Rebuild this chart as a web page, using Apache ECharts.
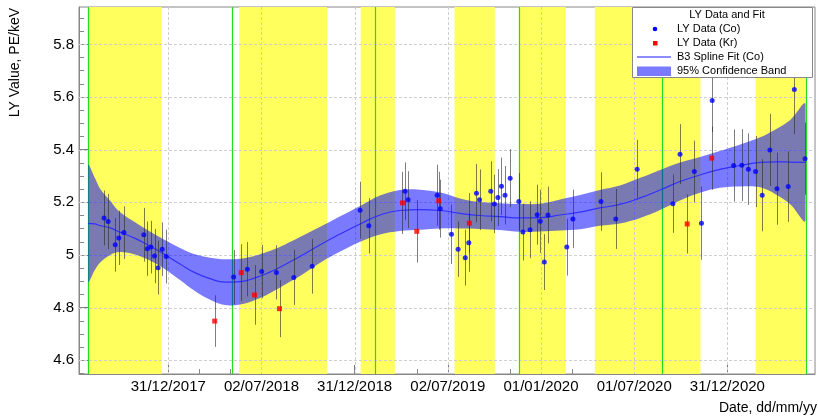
<!DOCTYPE html>
<html><head><meta charset="utf-8">
<script src="https://cdn.jsdelivr.net/npm/echarts@6/dist/echarts.min.js"></script>
<style>html,body{margin:0;padding:0;background:#fff}#c{width:818px;height:419px}</style>
</head><body><div id="c"></div>
<script>
// ---------- data ----------
const coDates = ['2017-08-27','2017-09-04','2017-09-18','2017-09-25','2017-10-05','2017-11-13','2017-11-20','2017-11-27','2017-12-04','2017-12-11','2017-12-19','2017-12-27',
  '2018-05-08','2018-06-04','2018-07-02','2018-07-31','2018-09-03','2018-10-09',
  '2019-01-11','2019-01-28','2019-04-09','2019-04-15','2019-06-11','2019-06-17','2019-07-09','2019-07-22','2019-08-05','2019-08-12','2019-08-27','2019-09-02','2019-09-24','2019-10-01','2019-10-08','2019-10-15','2019-10-22','2019-11-01','2019-11-18','2019-11-26','2019-12-10','2019-12-24','2019-12-30',
  '2020-01-07','2020-01-14','2020-02-20','2020-03-03','2020-04-27','2020-05-26','2020-07-07','2020-09-15','2020-09-29','2020-10-27','2020-11-10','2020-12-01',
  '2021-01-12','2021-01-28','2021-02-10','2021-02-24','2021-03-09','2021-03-24','2021-04-07','2021-04-29','2021-05-11','2021-06-01'];
const coValues = [5.141,5.127,5.039,5.065,5.085,5.077,5.024,5.030,4.996,4.952,5.022,4.994,
  4.916,4.946,4.937,4.934,4.915,4.957,
  5.170,5.111,5.242,5.210,5.227,5.176,5.079,5.022,4.990,5.047,5.235,5.210,5.242,5.194,5.218,5.261,5.227,5.292,5.203,5.087,5.096,5.153,5.128,
  4.973,5.152,5.030,5.137,5.203,5.137,5.326,5.195,5.383,5.317,5.121,5.587,
  5.340,5.341,5.326,5.317,5.227,5.399,5.252,5.260,5.629,5.366];
const coErrors = [0.104,0.105,0.102,0.103,0.100,0.102,0.103,0.100,0.103,0.102,0.102,0.102,
  0.103,0.103,0.101,0.103,0.105,0.104,
  0.108,0.105,0.110,0.108,0.116,0.110,0.113,0.105,0.106,0.111,0.111,0.115,0.114,0.111,0.108,0.109,0.111,0.110,0.108,0.108,0.108,0.114,0.120,
  0.106,0.108,0.108,0.111,0.111,0.114,0.111,0.111,0.114,0.117,0.139,0.120,
  0.137,0.137,0.136,0.135,0.137,0.137,0.137,0.134,0.170,0.137];
const krDates = ['2018-04-01','2018-05-23','2018-06-18','2018-08-06','2019-04-04','2019-05-02','2019-06-14','2019-08-13','2020-10-13','2020-11-30'];
const krValues = [4.749,4.933,4.848,4.796,5.198,5.090,5.206,5.121,5.118,5.368];
const krErrors = [0.098,0.108,0.113,0.108,0.118,0.119,0.110,0.114,0.112,0.120];

const fitDates = ['2017-07-27','2017-08-09','2017-08-19','2017-09-08','2017-09-27','2017-10-27','2017-11-25','2017-12-24',
  '2018-01-23','2018-02-21','2018-03-23','2018-04-21','2018-05-21','2018-06-19','2018-07-18','2018-08-17','2018-09-15','2018-10-24','2018-12-03',
  '2019-01-11','2019-02-19','2019-03-30','2019-05-08','2019-06-17','2019-07-26','2019-09-03','2019-10-12','2019-11-20','2019-12-30',
  '2020-02-07','2020-03-17','2020-04-25','2020-06-03','2020-07-13','2020-08-21','2020-09-29','2020-11-07','2020-12-16',
  '2021-01-25','2021-03-05','2021-04-03','2021-05-03','2021-06-02'];
const fitValues = [5.120,5.118,5.112,5.103,5.087,5.063,5.034,5.002,
  4.966,4.933,4.910,4.897,4.899,4.913,4.935,4.964,4.994,5.038,5.080,
  5.118,5.152,5.169,5.172,5.169,5.158,5.150,5.146,5.141,5.142,
  5.152,5.163,5.179,5.192,5.217,5.247,5.279,5.304,5.325,
  5.340,5.352,5.354,5.353,5.352];
const fitHalfWidth = [0.221,0.175,0.141,0.103,0.076,0.061,0.055,0.055,
  0.061,0.070,0.080,0.087,0.087,0.084,0.080,0.076,0.074,0.068,0.067,
  0.068,0.074,0.078,0.076,0.068,0.057,0.051,0.051,0.053,0.053,
  0.059,0.065,0.068,0.072,0.076,0.076,0.072,0.068,0.070,
  0.080,0.095,0.122,0.160,0.221];

const yellowBands = [['2017-07-27','2017-12-18'],['2018-05-19','2018-11-07'],['2019-01-12','2019-03-20'],['2019-07-15','2019-10-02'],['2019-11-18','2020-02-18'],['2020-04-15','2020-11-08'],['2021-02-24','2021-06-02']];
const greenLines = ['2017-07-27','2018-05-04','2019-02-10','2019-11-18','2020-08-25','2021-06-02'];

const xTickLabels = ['31/12/2017','02/07/2018','31/12/2018','02/07/2019','01/01/2020','01/07/2020','31/12/2020'];
const yTickValues = [4.6,4.8,5.0,5.2,5.4,5.6,5.8];
const yTickLabels = ['4.6','4.8','5','5.2','5.4','5.6','5.8'];

// ---------- helpers ----------
const DAY0 = Date.UTC(2017, 11, 31);
function toDay(s){ const p = s.split('-').map(Number); return (Date.UTC(p[0], p[1]-1, p[2]) - DAY0) / 86400000; }
const HALF_YEAR = 182.625;
const xMin = toDay('2017-07-09'), xMax = toDay('2021-06-20') + 0.5;
const yMin = 4.548, yMax = 5.942;
const majorDays = xTickLabels.map((_, i) => i * HALF_YEAR);
const minorDays = [];
for (let k = -3; k <= 21; k++) { const v = k * HALF_YEAR / 3; if (v > xMin && v < xMax) minorDays.push(v); }
const yMinor = [];
for (let k = 91; k <= 118; k++) { const v = k * 0.05; if (v > yMin && v < yMax) yMinor.push(+v.toFixed(2)); }

const FONT = '"Liberation Sans", Arial, Helvetica, sans-serif';
const coData = coDates.map((d, i) => [toDay(d), coValues[i], coErrors[i]]);
const krData = krDates.map((d, i) => [toDay(d), krValues[i], krErrors[i]]);
const fitX = fitDates.map(toDay);
const fitData = fitX.map((x, i) => [x, fitValues[i]]);

const chart = echarts.init(document.getElementById('c'), null, {renderer: 'canvas'});

function errRender(params, api) {
  const x = api.value(0), y = api.value(1), e = api.value(2);
  const a = api.coord([x, y + e]), b = api.coord([x, y - e]);
  const px = Math.round(a[0]) + 0.5;
  return {type: 'line', shape: {x1: px, y1: a[1], x2: px, y2: b[1]}, style: {stroke: 'rgba(40,40,40,0.6)', lineWidth: 1}};
}

function bandRender(params, api) {
  const up = [], lo = [];
  for (let i = 0; i < fitX.length; i++) {
    up.push(api.coord([fitX[i], fitValues[i] + fitHalfWidth[i]]));
    lo.push(api.coord([fitX[i], fitValues[i] - fitHalfWidth[i]]));
  }
  const pts = up.concat(lo.reverse());
  const x0 = up[0][0], x1 = up[up.length - 1][0];
  return {type: 'polygon', shape: {points: pts, smooth: 0.35, smoothConstraint: [[x0, -1e6], [x1, 1e6]]},
    style: {fill: 'rgba(0,0,255,0.52)', stroke: null}};
}

const option = {
  animation: false,
  backgroundColor: '#fff',
  grid: {left: 79, top: 7, right: 3, bottom: 45, show: true, borderColor: '#888', borderWidth: 1, backgroundColor: 'transparent'},
  xAxis: [
    {type: 'value', min: xMin, max: xMax, position: 'bottom',
      axisLine: {show: true, onZero: false, lineStyle: {color: '#888'}},
      axisTick: {show: true, inside: true, length: 9, customValues: majorDays, lineStyle: {color: '#777'}},
      axisLabel: {show: true, customValues: majorDays, margin: 5, fontSize: 15, fontFamily: FONT, color: '#000',
        formatter: v => xTickLabels[Math.round(v / HALF_YEAR)] || ''},
      splitLine: {show: false}},
    {type: 'value', min: xMin, max: xMax, position: 'bottom', gridIndex: 0,
      axisLine: {show: false, onZero: false},
      axisTick: {show: true, inside: true, length: 5, customValues: minorDays, lineStyle: {color: '#888'}},
      axisLabel: {show: false}, splitLine: {show: false}}
  ],
  yAxis: [
    {type: 'value', min: yMin, max: yMax, position: 'left',
      axisLine: {show: true, onZero: false, lineStyle: {color: '#888'}},
      axisTick: {show: true, inside: true, length: 10, customValues: yTickValues, lineStyle: {color: '#777'}},
      axisLabel: {show: true, customValues: yTickValues, margin: 5, fontSize: 15, fontFamily: FONT, color: '#000',
        formatter: v => { const i = yTickValues.findIndex(t => Math.abs(t - v) < 1e-6); return i >= 0 ? yTickLabels[i] : ''; }},
      splitLine: {show: false}},
    {type: 'value', min: yMin, max: yMax, position: 'left', gridIndex: 0,
      axisLine: {show: false, onZero: false},
      axisTick: {show: true, inside: true, length: 5, customValues: yMinor, lineStyle: {color: '#888'}},
      axisLabel: {show: false}, splitLine: {show: false}}
  ],
  series: [
    {type: 'custom', name: 'bands', z: 1, silent: true, clip: true,
      data: yellowBands.map(b => [toDay(b[0]), toDay(b[1])]), encode: {x: [0, 1]},
      renderItem: (params, api) => {
        const cs = params.coordSys;
        const a = api.coord([api.value(0), yMin]), b = api.coord([api.value(1), yMin]);
        return {type: 'rect', shape: {x: a[0], y: cs.y, width: b[0] - a[0], height: cs.height}, style: {fill: '#ffff5e'}};
      }},
    {type: 'custom', name: 'vgrid', z: 2, silent: true,
      data: majorDays.map(v => [v]), encode: {x: 0},
      renderItem: (params, api) => {
        const cs = params.coordSys; const p = api.coord([api.value(0), yMin]);
        const x = Math.round(p[0]) + 0.5;
        return {type: 'line', shape: {x1: x, y1: cs.y, x2: x, y2: cs.y + cs.height}, style: {stroke: '#cfcfcf', lineWidth: 1, lineDash: [3, 2]}};
      }},
    {type: 'custom', name: 'hgrid', z: 2, silent: true,
      data: yTickValues.map(v => [xMin, v]), encode: {x: 0, y: 1},
      renderItem: (params, api) => {
        const cs = params.coordSys; const p = api.coord([xMin, api.value(1)]);
        const y = Math.round(p[1]) + 0.5;
        return {type: 'line', shape: {x1: cs.x, y1: y, x2: cs.x + cs.width, y2: y}, style: {stroke: '#cfcfcf', lineWidth: 1, lineDash: [3, 2]}};
      }},
    {type: 'custom', name: 'green', z: 2, silent: true,
      data: greenLines.map(d => [toDay(d)]), encode: {x: 0},
      renderItem: (params, api) => {
        const cs = params.coordSys; const p = api.coord([api.value(0), yMin]);
        const x = Math.round(p[0]) + 0.5;
        return {type: 'line', shape: {x1: x, y1: cs.y, x2: x, y2: cs.y + cs.height}, style: {stroke: '#22dd22', lineWidth: 1.2}};
      }},
    {type: 'custom', name: '95% Confidence Band', z: 3, silent: true, clip: true,
      data: [[fitX[0], fitValues[0]]], encode: {x: 0, y: 1}, renderItem: bandRender},
    {type: 'line', name: 'B3 Spline Fit (Co)', z: 4, data: fitData, smooth: 0.5, symbol: 'none', silent: true,
      lineStyle: {color: '#3030ff', width: 1.2}},
    {type: 'custom', name: 'coErr', z: 5, silent: true, data: coData, encode: {x: 0, y: 1}, renderItem: errRender},
    {type: 'custom', name: 'krErr', z: 5, silent: true, data: krData, encode: {x: 0, y: 1}, renderItem: errRender},
    {type: 'scatter', name: 'LY Data (Co)', z: 6, data: coData, symbol: 'circle', symbolSize: 5,
      itemStyle: {color: '#0000ff'}, encode: {x: 0, y: 1}},
    {type: 'scatter', name: 'LY Data (Kr)', z: 6, data: krData, symbol: 'rect', symbolSize: 5,
      itemStyle: {color: '#ff0000'}, encode: {x: 0, y: 1}}
  ],
  graphic: [
    {type: 'text', x: 15, y: 8, rotation: Math.PI / 2, z: 100,
      style: {text: 'LY Value, PE/keV', align: 'right', verticalAlign: 'middle', fontSize: 14, fontFamily: FONT, fill: '#000'}},
    {type: 'text', x: 817, y: 408, z: 100,
      style: {text: 'Date, dd/mm/yy', align: 'right', verticalAlign: 'middle', fontSize: 14, fontFamily: FONT, fill: '#000'}},
    {type: 'rect', z: 100, shape: {x: 632.5, y: 7.5, width: 180, height: 70}, style: {fill: '#fff', stroke: '#888', lineWidth: 1}},
    {type: 'text', z: 101, x: 727, y: 15, style: {text: 'LY Data and Fit', align: 'center', verticalAlign: 'middle', fontSize: 11, fontFamily: FONT, fill: '#000'}},
    {type: 'circle', z: 101, shape: {cx: 655, cy: 29, r: 2.3}, style: {fill: '#0000ff'}},
    {type: 'text', z: 101, x: 677, y: 29, style: {text: 'LY Data (Co)', align: 'left', verticalAlign: 'middle', fontSize: 11, fontFamily: FONT, fill: '#000'}},
    {type: 'rect', z: 101, shape: {x: 653, y: 41, width: 4.5, height: 4.5}, style: {fill: '#ff0000'}},
    {type: 'text', z: 101, x: 677, y: 43, style: {text: 'LY Data (Kr)', align: 'left', verticalAlign: 'middle', fontSize: 11, fontFamily: FONT, fill: '#000'}},
    {type: 'line', z: 101, shape: {x1: 637, y1: 57, x2: 671, y2: 57}, style: {stroke: '#8c8cff', lineWidth: 2}},
    {type: 'text', z: 101, x: 677, y: 57, style: {text: 'B3 Spline Fit (Co)', align: 'left', verticalAlign: 'middle', fontSize: 11, fontFamily: FONT, fill: '#000'}},
    {type: 'rect', z: 101, shape: {x: 637, y: 66.5, width: 34, height: 9.5}, style: {fill: 'rgba(0,0,255,0.52)'}},
    {type: 'text', z: 101, x: 677, y: 71, style: {text: '95% Confidence Band', align: 'left', verticalAlign: 'middle', fontSize: 11, fontFamily: FONT, fill: '#000'}}
  ]
};
chart.setOption(option);
</script>
</body></html>
